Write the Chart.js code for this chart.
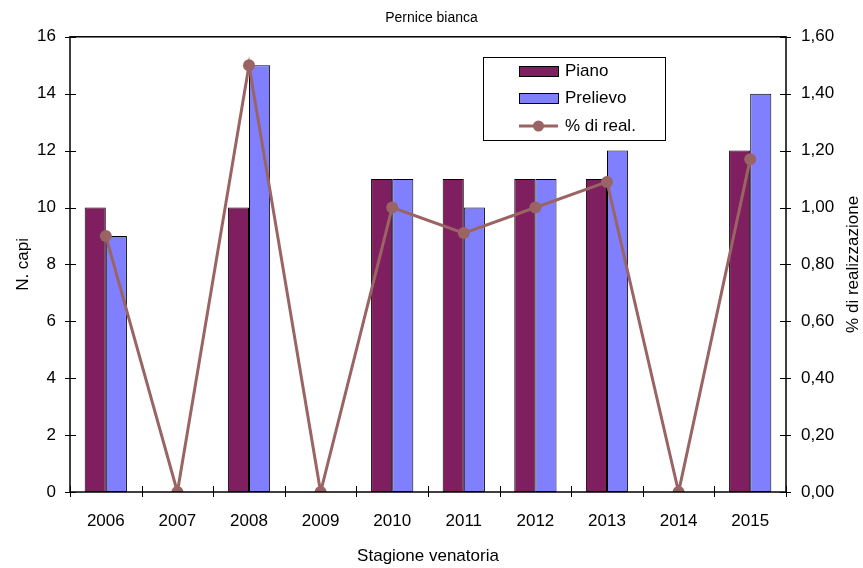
<!DOCTYPE html>
<html lang="it">
<head>
<meta charset="UTF-8">
<title>Pernice bianca</title>
<script src="https://cdn.jsdelivr.net/npm/chart.js"></script>
<style>
  html, body { margin: 0; padding: 0; background: #fff; }
</style>
</head>
<body>
<canvas id="chart" width="863" height="568"></canvas>
<script>
// dati
const stagioni = ['2006', '2007', '2008', '2009', '2010', '2011', '2012', '2013', '2014', '2015'];
const piano = [10, 0, 10, 0, 11, 11, 11, 11, 0, 12];
const prelievo = [9, 0, 15, 0, 11, 10, 11, 12, 0, 14];
const realizzazione = [0.90, 0, 1.50, 0, 1.00, 0.91, 1.00, 1.09, 0, 1.17];
const titoloDestro = '% di realizzazione';

const FONT = "'Liberation Sans', Arial, sans-serif";
const FS = 17;

// cornice, tacche e titolo asse destro
const framePlugin = {
    id: 'frame',
    afterDraw(chart) {
        const ctx = chart.ctx;
        const a = chart.chartArea;
        ctx.save();
        ctx.strokeStyle = '#000';
        ctx.lineWidth = 1.5;
        ctx.strokeRect(a.left, a.top, a.right - a.left, a.bottom - a.top);
        ctx.lineWidth = 1;
        ctx.beginPath();
        const y = chart.scales.y, y1 = chart.scales.y1, x = chart.scales.x;
        y.ticks.forEach((t, i) => {
            const p = Math.round(y.getPixelForTick(i)) + 0.5;
            ctx.moveTo(a.left - 5, p); ctx.lineTo(a.left + 6, p);
        });
        y1.ticks.forEach((t, i) => {
            const p = Math.round(y1.getPixelForTick(i)) + 0.5;
            ctx.moveTo(a.right - 6, p); ctx.lineTo(a.right + 5, p);
        });
        const n = x.ticks.length;
        for (let i = 0; i <= n; i++) {
            let p;
            if (i === 0) p = a.left;
            else if (i === n) p = a.right;
            else p = (x.getPixelForTick(i - 1) + x.getPixelForTick(i)) / 2;
            p = Math.round(p) + 0.5;
            ctx.moveTo(p, a.bottom - 6); ctx.lineTo(p, a.bottom + 5);
        }
        ctx.stroke();

        // titolo asse destro, dal basso verso l'alto
        ctx.fillStyle = '#000';
        ctx.font = FS + 'px ' + FONT;
        ctx.textAlign = 'center';
        ctx.textBaseline = 'middle';
        ctx.translate(853, (a.top + a.bottom) / 2);
        ctx.rotate(-Math.PI / 2);
        ctx.fillText(titoloDestro, 0, 0);
        ctx.restore();
    }
};

// legenda dentro l'area del grafico
const legendPlugin = {
    id: 'boxLegend',
    afterDraw(chart) {
        const ctx = chart.ctx;
        const ds = chart.data.datasets;
        const bx = 483, by = 57, bw = 182, bh = 83;
        ctx.save();
        ctx.fillStyle = '#fff';
        ctx.fillRect(bx, by, bw, bh);
        ctx.strokeStyle = '#000';
        ctx.lineWidth = 1;
        ctx.strokeRect(bx + 0.5, by + 0.5, bw, bh);
        const rows = [71, 98, 126];
        ctx.font = FS + 'px ' + FONT;
        ctx.textBaseline = 'middle';
        ds.forEach((d, i) => {
            const yy = rows[i];
            if (d.type === 'line') {
                ctx.strokeStyle = d.borderColor;
                ctx.lineWidth = 3;
                ctx.beginPath();
                ctx.moveTo(519, yy); ctx.lineTo(558, yy);
                ctx.stroke();
                ctx.fillStyle = d.borderColor;
                ctx.beginPath();
                ctx.arc(538.5, yy, 5.5, 0, Math.PI * 2);
                ctx.fill();
            } else {
                ctx.fillStyle = d.backgroundColor;
                ctx.fillRect(519, yy - 5, 39, 10);
                ctx.strokeStyle = '#000';
                ctx.lineWidth = 1;
                ctx.strokeRect(519.5, yy - 4.5, 39, 10);
            }
            ctx.fillStyle = '#000';
            ctx.textAlign = 'left';
            ctx.fillText(d.label, 565, yy);
        });
        ctx.restore();
    }
};

new Chart(document.getElementById('chart'), {
    type: 'bar',
    data: {
        labels: stagioni,
        datasets: [
            {
                label: 'Piano',
                data: piano,
                backgroundColor: '#7F1F5F',
                borderColor: '#000',
                borderWidth: 1,
                borderSkipped: false,
                yAxisID: 'y',
                order: 1
            },
            {
                label: 'Prelievo',
                data: prelievo,
                backgroundColor: '#8080FF',
                borderColor: '#000',
                borderWidth: 1,
                borderSkipped: false,
                yAxisID: 'y',
                order: 1
            },
            {
                type: 'line',
                label: '% di real.',
                data: realizzazione,
                borderColor: '#9A6464',
                backgroundColor: '#9A6464',
                borderWidth: 3,
                pointRadius: 6,
                pointBackgroundColor: '#9A6464',
                pointBorderWidth: 0,
                yAxisID: 'y1',
                order: 0
            }
        ]
    },
    options: {
        responsive: false,
        animation: false,
        layout: { padding: 0 },
        datasets: {
            bar: { categoryPercentage: 0.59, barPercentage: 1.0 }
        },
        plugins: {
            legend: { display: false },
            tooltip: { enabled: false },
            title: {
                display: true,
                text: 'Pernice bianca',
                color: '#000',
                font: { family: FONT, size: 14, weight: 'normal' },
                padding: { top: 10, bottom: 10 }
            }
        },
        scales: {
            x: {
                grid: { display: false, drawTicks: false },
                border: { display: false },
                ticks: { color: '#000', font: { family: FONT, size: FS }, padding: 19 },
                title: {
                    display: true,
                    text: 'Stagione venatoria',
                    color: '#000',
                    font: { family: FONT, size: FS },
                    padding: { top: 0, bottom: 1 }
                },
                afterFit(s) { s.height = 76; }
            },
            y: {
                position: 'left',
                min: 0,
                max: 16,
                grid: { display: false, drawTicks: false },
                border: { display: false },
                ticks: { stepSize: 2, color: '#000', font: { family: FONT, size: FS }, padding: 14 },
                title: {
                    display: true,
                    text: 'N. capi',
                    color: '#000',
                    font: { family: FONT, size: FS },
                    padding: { top: 13, bottom: 0 }
                },
                afterFit(s) { s.width = 70; }
            },
            y1: {
                position: 'right',
                min: 0,
                max: 1.6,
                grid: { display: false, drawTicks: false },
                border: { display: false },
                ticks: {
                    stepSize: 0.2,
                    color: '#000',
                    font: { family: FONT, size: FS },
                    padding: 15,
                    callback: v => v.toFixed(2).replace('.', ',')
                },
                afterFit(s) { s.width = 77; }
            }
        }
    },
    plugins: [framePlugin, legendPlugin]
});
</script>
</body>
</html>
